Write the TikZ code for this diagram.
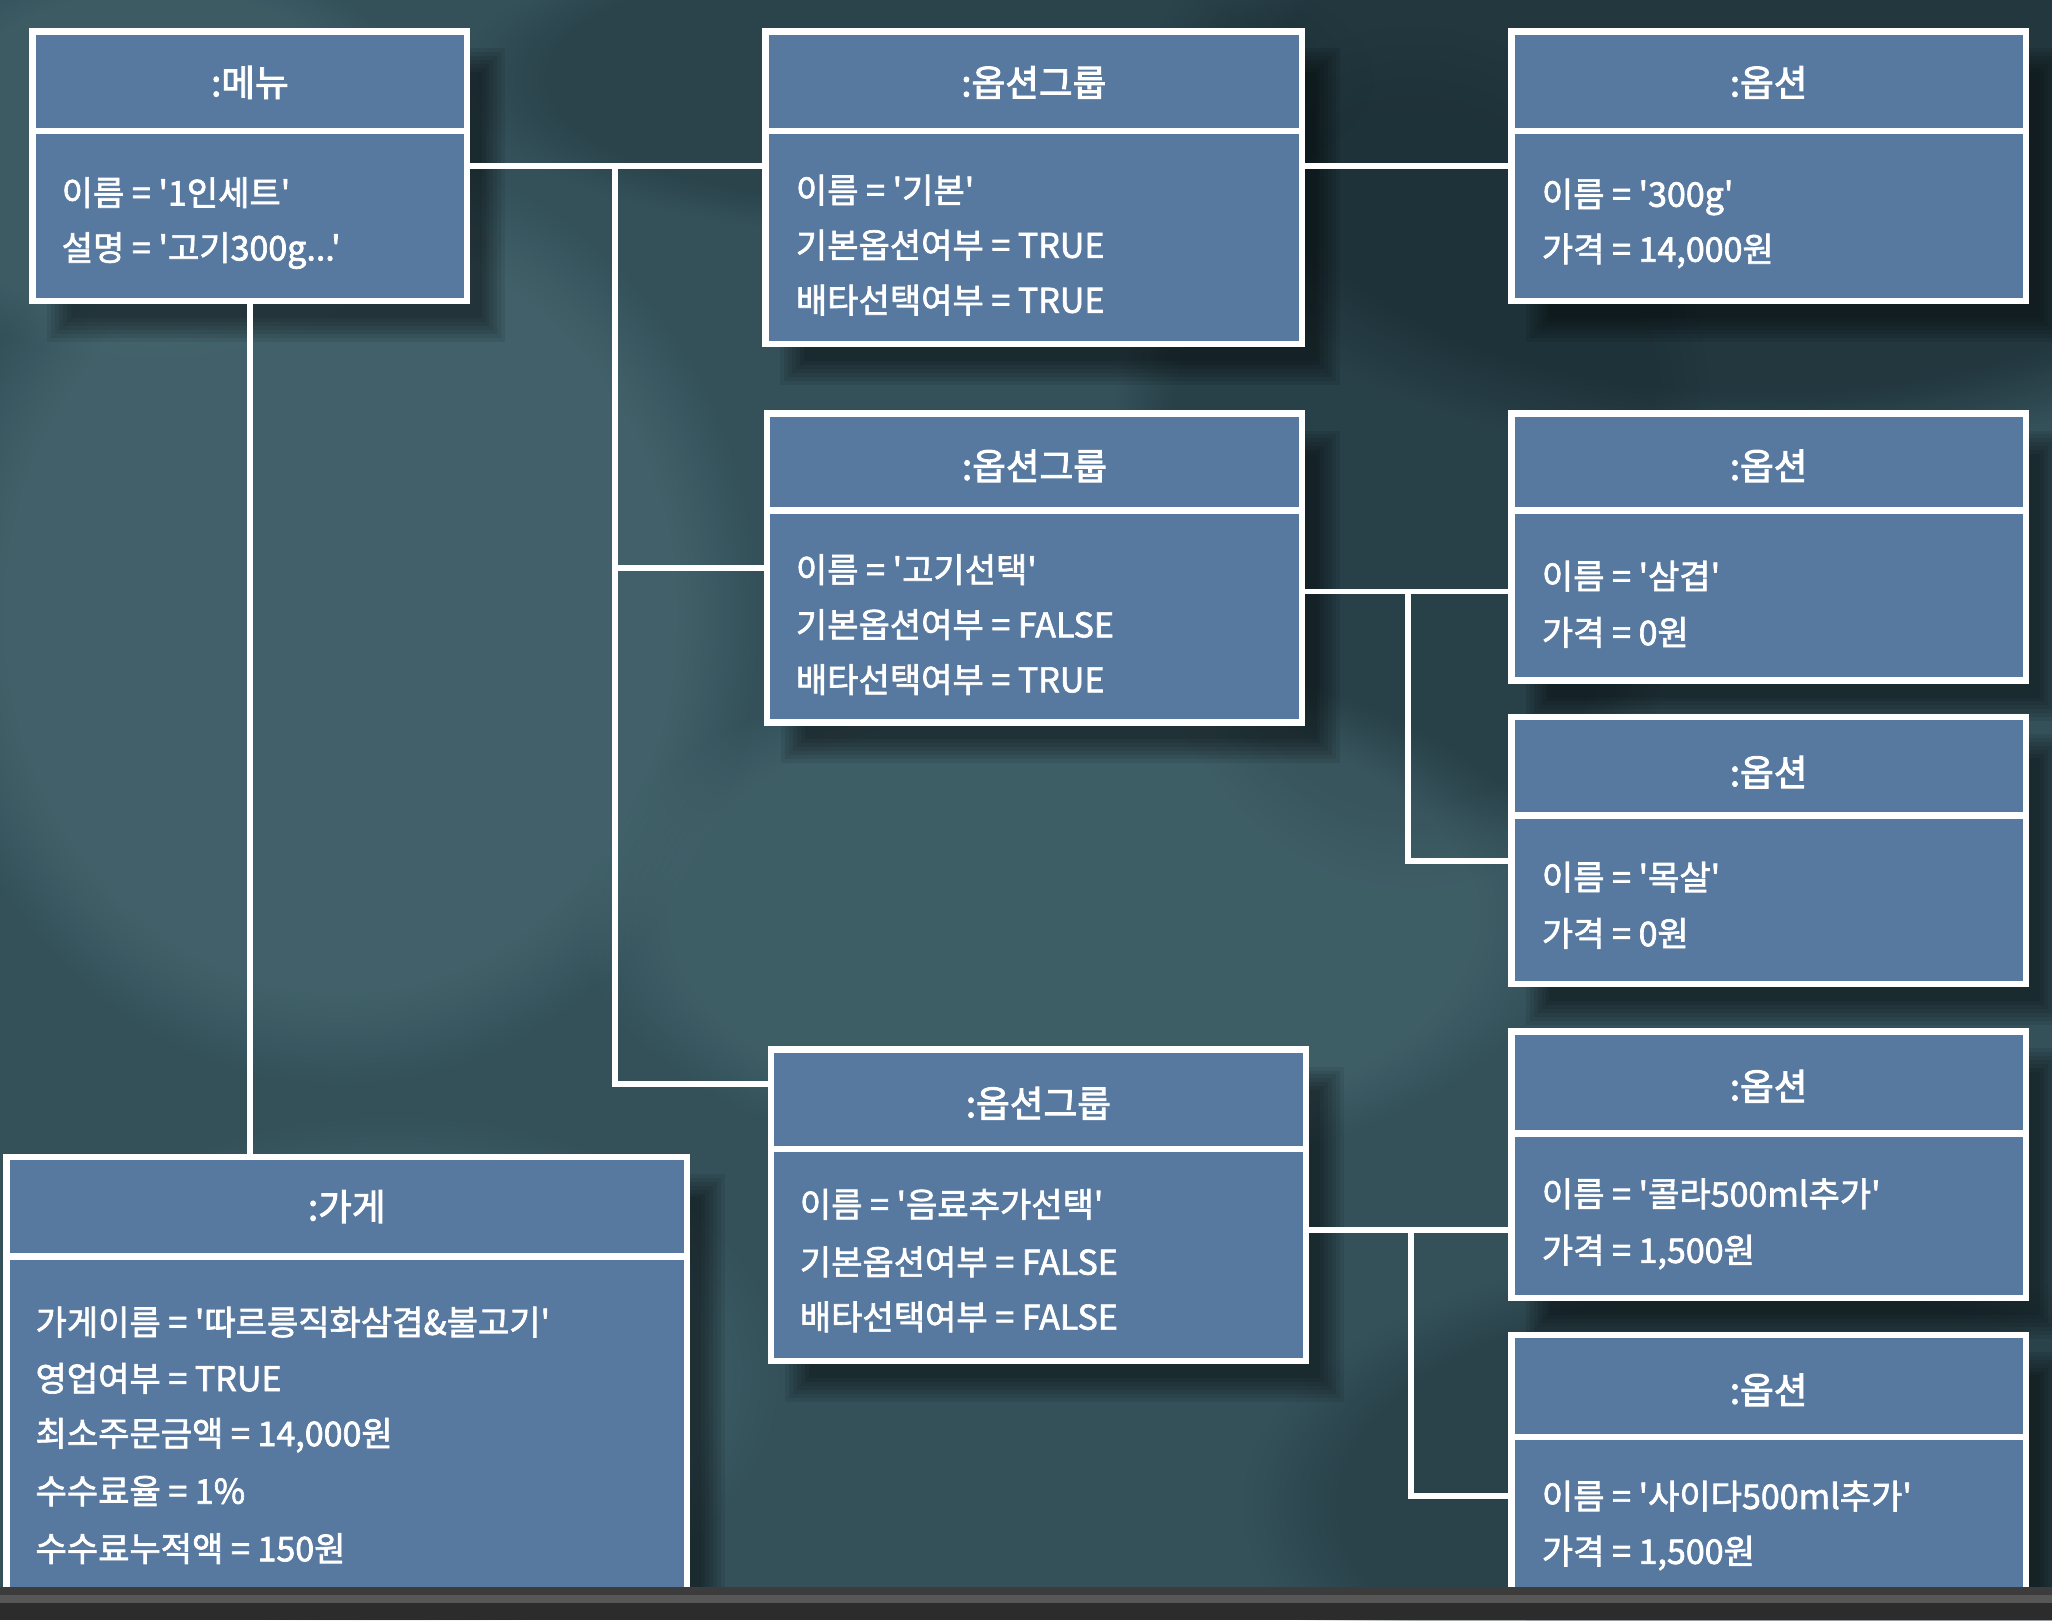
\documentclass[tikz,border=0pt]{standalone}
\usepackage{fontspec}
\newfontfamily\kr[FakeBold=2]{Noto Sans CJK KR}
\newfontfamily\krt[FakeBold=2.5]{Noto Sans CJK KR}
\usetikzlibrary{fadings}
\definecolor{bgbase}{HTML}{34515A}
\definecolor{bgdark}{HTML}{1B2C33}
\definecolor{bglight}{HTML}{4C6E76}
\definecolor{boxblue}{HTML}{57789F}
\definecolor{barA}{HTML}{3C3C3C}
\definecolor{barB}{HTML}{575757}
\definecolor{barC}{HTML}{2C2C2C}
\newcommand\softshadow[4]{%
  \foreach \r in {0,3,...,18}{%
    \fill[black,opacity=0.08] (#1+20+\r-9,#2+22+\r-9) rectangle (#1+#3+20-\r+9,#2+#4+22-\r+9);}}
\tikzset{
  box/.style={draw=white, line width=5pt, fill=boxblue, anchor=north west, inner sep=0pt, outer sep=0pt, rectangle},
  sepline/.style={white, line width=5pt},
  ttl/.style={text=white, font=\krt\fontsize{28}{30}\selectfont, inner sep=0pt},
  attr/.style={text=white, font=\kr\fontsize{26}{30}\selectfont, anchor=base west, inner sep=0pt},
  link/.style={white, line width=4.5pt},
  blob/.style={path fading=circle with fuzzy edge 20 percent}
}
\begin{document}
\begin{tikzpicture}[x=1pt,y=-1pt]
\useasboundingbox (0,0) rectangle (1568,1238);
% background
\fill[bgbase] (0,0) rectangle (1568,1238);
\fill[bgdark,opacity=0.7,blob] (1350,90) ellipse (480 and 260);
\fill[bgdark,opacity=0.45,blob] (1080,350) ellipse (230 and 330);
\fill[bgdark,opacity=0.4,blob] (1350,1150) ellipse (400 and 200);
\fill[bgdark,opacity=0.35,blob] (700,60) ellipse (350 and 120);
\fill[bglight,opacity=0.55,blob] (260,470) ellipse (320 and 360);
\fill[bglight,opacity=0.45,blob] (820,700) ellipse (380 and 200);
\fill[bglight,opacity=0.35,blob] (120,120) ellipse (220 and 160);
\fill[bglight,opacity=0.3,blob] (300,1050) ellipse (300 and 200);

% shadows
\softshadow{25}{24}{332}{206}
\softshadow{585}{24}{410}{239}
\softshadow{1155}{24}{393}{206}
\softshadow{586}{316}{409}{236}
\softshadow{1155}{316}{393}{204}
\softshadow{1155}{548}{393}{204}
\softshadow{589}{802}{409}{238}
\softshadow{1155}{788}{393}{204}
\softshadow{1155}{1020}{393}{190}
\softshadow{5}{884}{520}{320}

% ---------- :메뉴
\node[box, minimum width=332pt, minimum height=206pt] (menu) at (25,24) {};
\draw[sepline] ([yshift=-76pt]menu.north west) -- ([yshift=-76pt]menu.north east);
\node[ttl] (menu-t) at ([yshift=-39pt]menu.north) {:메뉴};
\node[attr] (menu-a1) at ([xshift=22pt,yshift=-133pt]menu.north west) {이름 = '1인세트'};
\node[attr] (menu-a2) at ([xshift=22pt,yshift=-175pt]menu.north west) {설명 = '고기300g...'};

% ---------- :옵션그룹 1
\node[box, minimum width=410pt, minimum height=239pt] (og1) at (585,24) {};
\draw[sepline] ([yshift=-76pt]og1.north west) -- ([yshift=-76pt]og1.north east);
\node[ttl] (og1-t) at ([yshift=-39pt]og1.north) {:옵션그룹};
\node[attr] (og1-a1) at ([xshift=23pt,yshift=-131pt]og1.north west) {이름 = '기본'};
\node[attr] (og1-a2) at ([xshift=23pt,yshift=-173pt]og1.north west) {기본옵션여부 = TRUE};
\node[attr] (og1-a3) at ([xshift=23pt,yshift=-215pt]og1.north west) {배타선택여부 = TRUE};

% ---------- :옵션 1
\node[box, minimum width=393pt, minimum height=206pt] (opt1) at (1155,24) {};
\draw[sepline] ([yshift=-76pt]opt1.north west) -- ([yshift=-76pt]opt1.north east);
\node[ttl] (opt1-t) at ([yshift=-39pt]opt1.north) {:옵션};
\node[attr] (opt1-a1) at ([xshift=23pt,yshift=-134pt]opt1.north west) {이름 = '300g'};
\node[attr] (opt1-a2) at ([xshift=23pt,yshift=-176pt]opt1.north west) {가격 = 14,000원};

% ---------- :옵션그룹 2
\node[box, minimum width=409pt, minimum height=236pt] (og2) at (586,316) {};
\draw[sepline] ([yshift=-74pt]og2.north west) -- ([yshift=-74pt]og2.north east);
\node[ttl] (og2-t) at ([yshift=-40pt]og2.north) {:옵션그룹};
\node[attr] (og2-a1) at ([xshift=22pt,yshift=-129pt]og2.north west) {이름 = '고기선택'};
\node[attr] (og2-a2) at ([xshift=22pt,yshift=-171pt]og2.north west) {기본옵션여부 = FALSE};
\node[attr] (og2-a3) at ([xshift=22pt,yshift=-213pt]og2.north west) {배타선택여부 = TRUE};

% ---------- :옵션 2
\node[box, minimum width=393pt, minimum height=204pt] (opt2) at (1155,316) {};
\draw[sepline] ([yshift=-74pt]opt2.north west) -- ([yshift=-74pt]opt2.north east);
\node[ttl] (opt2-t) at ([yshift=-40pt]opt2.north) {:옵션};
\node[attr] (opt2-a1) at ([xshift=23pt,yshift=-134pt]opt2.north west) {이름 = '삼겹'};
\node[attr] (opt2-a2) at ([xshift=23pt,yshift=-177pt]opt2.north west) {가격 = 0원};

% ---------- :옵션 3
\node[box, minimum width=393pt, minimum height=204pt] (opt3) at (1155,548) {};
\draw[sepline] ([yshift=-75pt]opt3.north west) -- ([yshift=-75pt]opt3.north east);
\node[ttl] (opt3-t) at ([yshift=-42pt]opt3.north) {:옵션};
\node[attr] (opt3-a1) at ([xshift=23pt,yshift=-132pt]opt3.north west) {이름 = '목살'};
\node[attr] (opt3-a2) at ([xshift=23pt,yshift=-175pt]opt3.north west) {가격 = 0원};

% ---------- :옵션그룹 3
\node[box, minimum width=409pt, minimum height=238pt] (og3) at (589,802) {};
\draw[sepline] ([yshift=-76pt]og3.north west) -- ([yshift=-76pt]og3.north east);
\node[ttl] (og3-t) at ([yshift=-41pt]og3.north) {:옵션그룹};
\node[attr] (og3-a1) at ([xshift=22pt,yshift=-128pt]og3.north west) {이름 = '음료추가선택'};
\node[attr] (og3-a2) at ([xshift=22pt,yshift=-172pt]og3.north west) {기본옵션여부 = FALSE};
\node[attr] (og3-a3) at ([xshift=22pt,yshift=-214pt]og3.north west) {배타선택여부 = FALSE};

% ---------- :옵션 4
\node[box, minimum width=393pt, minimum height=204pt] (opt4) at (1155,788) {};
\draw[sepline] ([yshift=-78pt]opt4.north west) -- ([yshift=-78pt]opt4.north east);
\node[ttl] (opt4-t) at ([yshift=-42pt]opt4.north) {:옵션};
\node[attr] (opt4-a1) at ([xshift=23pt,yshift=-134pt]opt4.north west) {이름 = '콜라500ml추가'};
\node[attr] (opt4-a2) at ([xshift=23pt,yshift=-177pt]opt4.north west) {가격 = 1,500원};

% ---------- :옵션 5
\node[box, minimum width=393pt, minimum height=210pt] (opt5) at (1155,1020) {};
\draw[sepline] ([yshift=-78pt]opt5.north west) -- ([yshift=-78pt]opt5.north east);
\node[ttl] (opt5-t) at ([yshift=-42pt]opt5.north) {:옵션};
\node[attr] (opt5-a1) at ([xshift=23pt,yshift=-133pt]opt5.north west) {이름 = '사이다500ml추가'};
\node[attr] (opt5-a2) at ([xshift=23pt,yshift=-175pt]opt5.north west) {가격 = 1,500원};

% ---------- :가게
\node[box, minimum width=520pt, minimum height=346pt] (store) at (5,884) {};
\draw[sepline] ([yshift=-76pt]store.north west) -- ([yshift=-76pt]store.north east);
\node[ttl] (store-t) at ([yshift=-38pt]store.north) {:가게};
\node[attr] (store-a1) at ([xshift=22pt,yshift=-136pt]store.north west) {가게이름 = '따르릉직화삼겹\&불고기'};
\node[attr] (store-a2) at ([xshift=22pt,yshift=-179pt]store.north west) {영업여부 = TRUE};
\node[attr] (store-a3) at ([xshift=22pt,yshift=-221pt]store.north west) {최소주문금액 = 14,000원};
\node[attr] (store-a4) at ([xshift=22pt,yshift=-265pt]store.north west) {수수료율 = 1\%};
\node[attr] (store-a5) at ([xshift=22pt,yshift=-309pt]store.north west) {수수료누적액 = 150원};

% ---------- connectors
\coordinate (j1) at (470,127);
\coordinate (og3in) at ([yshift=-26pt]og3.north west);
\coordinate (opt2in) at ([yshift=-136pt]opt2.north west);
\coordinate (opt3in) at ([yshift=-110pt]opt3.north west);
\coordinate (opt4in) at ([yshift=-152pt]opt4.north west);
\coordinate (opt5in) at ([yshift=-123pt]opt5.north west);
\coordinate (j2) at (1076,452);
\coordinate (j3) at (1078,940);

\draw[link] (menu.east) -- (og1.west |- menu.east);
\draw[link] (j1) |- (og3in);
\draw[link] (j1 |- og2.west) -- (og2.west);
\draw[link] (og1.east |- opt1.west) -- (opt1.west);
\draw[link] (og2.east |- opt2in) -- (opt2in);
\draw[link] (j2) |- (opt3in);
\draw[link] (og3.east |- opt4in) -- (opt4in);
\draw[link] (j3) |- (opt5in);
\draw[link] (menu.south) -- (menu.south |- store.north);

% bottom bar
\fill[barA] (0,1213) rectangle (1568,1219);
\fill[barB] (0,1219) rectangle (1568,1225);
\fill[barC] (0,1225) rectangle (1568,1238);
\end{tikzpicture}
\end{document}
